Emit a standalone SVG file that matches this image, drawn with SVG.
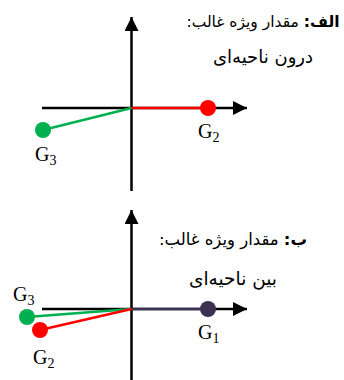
<svg xmlns="http://www.w3.org/2000/svg" width="344" height="380" viewBox="0 0 344 380">
<defs>
<marker id="ah" viewBox="0 0 10 10" refX="10" refY="5" markerWidth="16" markerHeight="14" markerUnits="userSpaceOnUse" orient="auto"><path d="M0,0 L10,5 L0,10 Z" fill="#000"/></marker>
</defs>
<style>
.ax{stroke:#000;stroke-width:2.5;fill:none}
.fa{font-family:"DejaVu Sans",sans-serif;fill:#000;direction:rtl}
.g{font-family:"Liberation Serif",serif;font-size:20px;fill:#000}
.s{font-size:14px}
</style>
<rect width="344" height="380" fill="#fff"/>
<g id="axes">
<line class="ax" x1="131.5" y1="191" x2="131.5" y2="17" marker-end="url(#ah)"/>
<line class="ax" x1="42" y1="108" x2="247" y2="108" marker-end="url(#ah)"/>
<line class="ax" x1="131.5" y1="380" x2="131.5" y2="210" marker-end="url(#ah)"/>
<line class="ax" x1="42" y1="309" x2="247" y2="309" marker-end="url(#ah)"/>
</g>
<g id="connectors">
<line x1="131.5" y1="108" x2="208" y2="108" stroke="#ff0000" stroke-width="2.5"/>
<line x1="131.5" y1="108" x2="43" y2="130" stroke="#00b050" stroke-width="2.5"/>
<line x1="131.5" y1="309" x2="208" y2="309" stroke="#3b3151" stroke-width="2.5"/>
<line x1="131.5" y1="309" x2="27" y2="317" stroke="#00b050" stroke-width="2.5"/>
<line x1="131.5" y1="309" x2="40" y2="330" stroke="#ff0000" stroke-width="2.5"/>
</g>
<g id="a-G2"><circle cx="208" cy="108" r="8" fill="#ff0000"/><text class="g" x="198" y="138">G<tspan class="s" dy="4">2</tspan></text></g>
<g id="a-G3"><circle cx="43" cy="130" r="8" fill="#00b050"/><text class="g" x="35" y="161">G<tspan class="s" dy="4">3</tspan></text></g>
<g id="b-G1"><circle cx="208" cy="309" r="8" fill="#3b3151"/><text class="g" x="198" y="339">G<tspan class="s" dy="4">1</tspan></text></g>
<g id="b-G3"><circle cx="27" cy="317" r="8" fill="#00b050"/><text class="g" x="13" y="301">G<tspan class="s" dy="4">3</tspan></text></g>
<g id="b-G2"><circle cx="40" cy="330" r="8" fill="#ff0000"/><text class="g" x="33" y="364">G<tspan class="s" dy="4">2</tspan></text></g>
<g id="label-a">
<text class="fa" x="263" y="27" text-anchor="middle" style="font-size:15.5px"><tspan font-weight="bold">الف:</tspan> مقدار ویژه غالب:</text>
<text class="fa" x="263" y="63" text-anchor="middle" style="font-size:18px">درون ناحیه‌ای</text>
</g>
<g id="label-b">
<text class="fa" x="233" y="245" text-anchor="middle" style="font-size:16.5px"><tspan font-weight="bold">ب:</tspan> مقدار ویژه غالب:</text>
<text class="fa" x="233" y="285" text-anchor="middle" style="font-size:18.5px">بین ناحیه‌ای</text>
</g>
</svg>
